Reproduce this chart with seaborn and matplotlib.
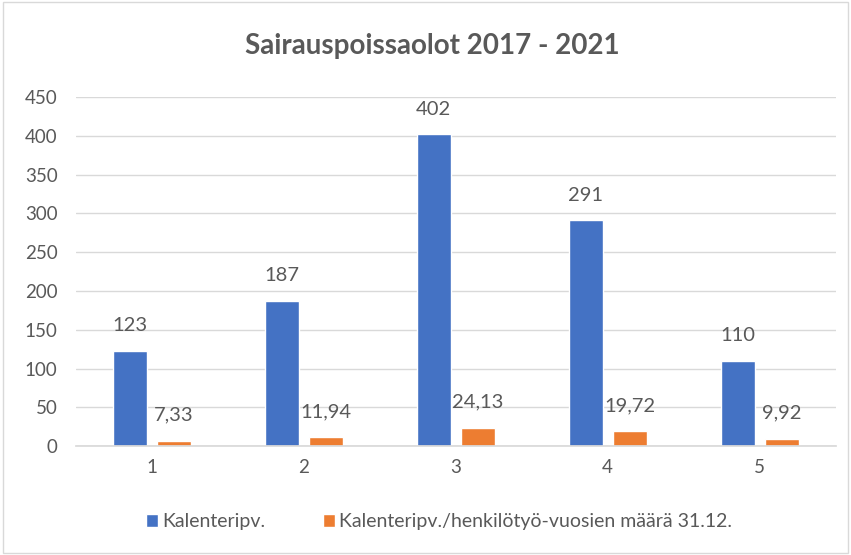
import pandas as pd
import numpy as np
import matplotlib
matplotlib.use('Agg')
import matplotlib.pyplot as plt
import seaborn as sns

# data
categories = ['1', '2', '3', '4', '5']
kalenteripv = [123, 187, 402, 291, 110]
suhde = [7.33, 11.94, 24.13, 19.72, 9.92]
series_names = ['Kalenteripv.', 'Kalenteripv./henkilötyö-vuosien määrä 31.12.']
colors = ['#4472C4', '#ED7D31']
yticks = list(range(0, 451, 50))

df = pd.DataFrame({
    'kategoria': categories * 2,
    'arvo': kalenteripv + suhde,
    'sarja': [series_names[0]] * len(categories) + [series_names[1]] * len(categories),
})

sns.set_theme(style='white')
plt.rcParams['font.family'] = ['Lato', 'DejaVu Sans']
txt = '#595959'

fig = plt.figure(figsize=(8.51, 5.55), dpi=100)
ax = fig.add_axes([0.089, 0.196, 0.893, 0.629])

sns.barplot(data=df, x='kategoria', y='arvo', hue='sarja', palette=colors,
            width=0.58, gap=0.227, ax=ax, saturation=1, legend=True)

ax.set_ylim(0, 450)
ax.set_yticks(yticks)
ax.yaxis.grid(True, color='#d9d9d9', linewidth=1)
ax.set_axisbelow(True)
for s in ['top', 'right', 'left']:
    ax.spines[s].set_visible(False)
ax.spines['bottom'].set_color('#d9d9d9')
ax.tick_params(axis='both', length=0, labelsize=13.5, colors=txt)
ax.tick_params(axis='y', pad=13)
ax.tick_params(axis='x', pad=9)
ax.set_xlabel('')
ax.set_ylabel('')

# data labels
ax.bar_label(ax.containers[0], labels=[str(v) for v in kalenteripv],
             padding=12, fontsize=14.5, color=txt)
ax.bar_label(ax.containers[1], labels=[f'{v:.2f}'.replace('.', ',') for v in suhde],
             padding=12, fontsize=14.5, color=txt)

fig.text(0.508, 0.917, 'Sairauspoissaolot 2017 - 2021', fontsize=20, fontweight='bold',
         color=txt, ha='center', va='center')

handles, labels = ax.get_legend_handles_labels()
ax.get_legend().remove()
fig.legend(handles, labels, loc='center', bbox_to_anchor=(0.516, 0.06), ncol=2,
           frameon=False, fontsize=14, handlelength=0.6, handleheight=0.6,
           handletextpad=0.2, columnspacing=3, labelcolor=txt)

# chart frame
fig.patches.append(plt.Rectangle((0.004, 0.004), 0.992, 0.992, transform=fig.transFigure,
                                 fill=False, edgecolor='#d9d9d9', linewidth=1))

plt.savefig('out.png', dpi=100)
